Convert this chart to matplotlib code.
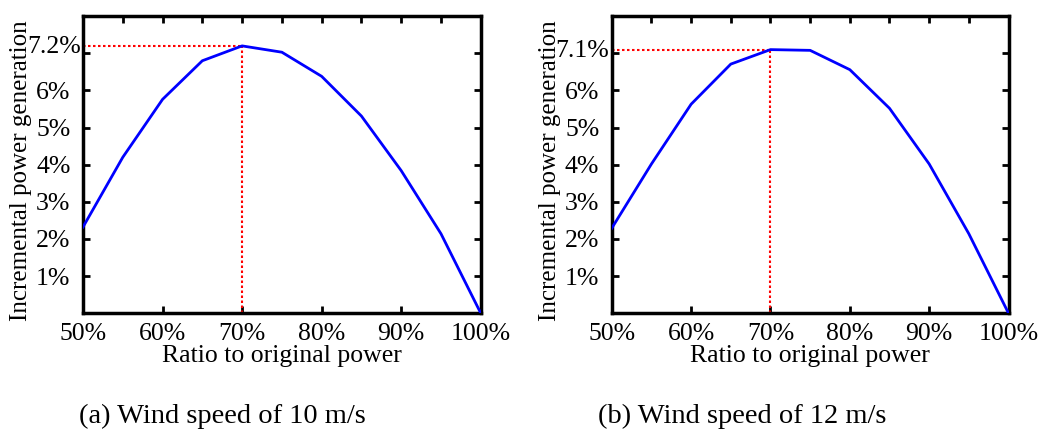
import numpy as np
import matplotlib
matplotlib.use("Agg")
import matplotlib.pyplot as plt
from matplotlib.ticker import MultipleLocator

plt.rcParams['font.family'] = ['Liberation Serif', 'DejaVu Serif']

# ratio of reduced output to original power (%)
ratio = [50, 55, 60, 65, 70, 75, 80, 85, 90, 95, 100]

# incremental power generation (%) for the two wind speeds
gain_10 = [2.32, 4.20, 5.76, 6.80, 7.20, 7.03, 6.38, 5.31, 3.84, 2.14, 0.0]
gain_12 = [2.29, 4.02, 5.63, 6.71, 7.10, 7.08, 6.56, 5.52, 4.02, 2.14, 0.0]

peak_ratio = [70, 70]
peak_gain = [7.2, 7.1]
peak_labels = ["7.2%", "7.1%"]
captions = ["(a) Wind speed of 10 m/s", "(b) Wind speed of 12 m/s"]

fig = plt.figure(figsize=(10.44, 4.32), dpi=100)
ax_pos = [[0.0795, 0.275, 0.381, 0.6875],
          [0.586, 0.275, 0.380, 0.6875]]
cap_x = [0.213, 0.711]
fs = 18.5

for i, gain in enumerate([gain_10, gain_12]):
    ax = fig.add_axes(ax_pos[i])
    ax.plot(ratio, gain, color='#0000ff', lw=2.0, zorder=3)

    # dotted guides to the peak
    px, py = peak_ratio[i], peak_gain[i]
    ax.plot([50, px], [py, py], color='#ff0000', ls=(0, (1.2, 1.2)), lw=1.5, zorder=2)
    ax.plot([px, px], [0, py], color='#ff0000', ls=(0, (1.2, 1.2)), lw=1.5, zorder=2)

    ax.set_xlim(50, 100)
    ax.set_ylim(0, 8)

    ax.set_xticks([50, 60, 70, 80, 90, 100])
    ax.set_xticklabels([f"{v}%" for v in [50, 60, 70, 80, 90, 100]])
    ax.xaxis.set_minor_locator(MultipleLocator(5))

    yt = [1, 2, 3, 4, 5, 6, 7]
    ax.set_yticks(yt)
    ax.set_yticklabels([f"{v}%" for v in yt[:-1]] + [""])
    # peak value label sits at the peak height
    ax.text(-0.006, py / 8 - 0.005, peak_labels[i], transform=ax.transAxes,
            ha='right', va='center', fontsize=fs)

    ax.tick_params(which='both', direction='in', length=5, width=2,
                   top=True, right=True, labelsize=fs, pad=7)
    ax.tick_params(which='minor', bottom=False, top=True)
    ax.tick_params(axis='y', pad=9)
    for s in ax.spines.values():
        s.set_linewidth(2.5)

    ax.set_xlabel("Ratio to original power", fontsize=fs, labelpad=0)
    ax.set_ylabel("Incremental power generation", fontsize=18)
    ax.yaxis.set_label_coords(-0.128, 0.48)

    fig.text(cap_x[i], 0.036, captions[i], ha='center', va='center', fontsize=20.5)

fig.savefig("out.png", dpi=100, facecolor='white')
